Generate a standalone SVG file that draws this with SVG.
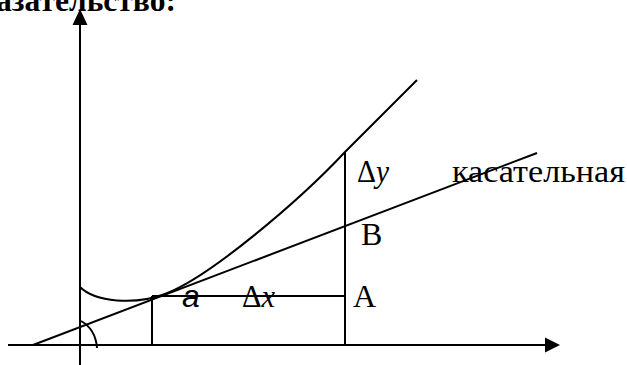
<svg xmlns="http://www.w3.org/2000/svg" width="627" height="365" viewBox="0 0 627 365">
<style>
.ln{stroke:#000;stroke-width:2;fill:none}
.t{font-family:"Liberation Serif","Times New Roman",serif;font-size:32px;fill:#000}
.i{font-style:italic}
</style>
<rect width="627" height="365" fill="#fff"/>
<text id="title" x="-4" y="11" class="t" style="font-weight:bold;font-size:32px" textLength="180" lengthAdjust="spacingAndGlyphs">азательство:</text>
<g id="axes">
<line class="ln" x1="80" y1="24" x2="80" y2="365"/>
<polygon points="80,9 72.5,25 87.5,25" fill="#000"/>
<line class="ln" x1="8" y1="345" x2="546" y2="345"/>
<polygon points="560,345 545,337.5 545,352.5" fill="#000"/>
</g>
<g id="connectors">
<line id="tangent" class="ln" x1="33" y1="345" x2="537" y2="153"/>
<path id="curve" class="ln" d="M80,287 C95,302 135,305.4 165,294 C210,277 300,200 345,152 L417,80"/>
<path id="arc" class="ln" d="M81,321 C90,326 96,335 97,348"/>
<line class="ln" x1="152" y1="296" x2="152" y2="345"/>
<line class="ln" x1="152" y1="296" x2="345" y2="296"/>
<line class="ln" x1="345" y1="152" x2="345" y2="345"/>
</g>
<g id="labels">
<text x="182" y="307" style="font-family:'Liberation Sans',Arial,sans-serif;font-size:32px;font-style:italic">a</text>
<text x="242" y="307" class="t" textLength="33" lengthAdjust="spacingAndGlyphs">Δ<tspan class="i">x</tspan></text>
<text x="353" y="307" class="t">A</text>
<text x="361" y="245" class="t">B</text>
<text x="357" y="182" class="t" textLength="32" lengthAdjust="spacingAndGlyphs">Δ<tspan class="i">y</tspan></text>
<text x="452" y="182" class="t" textLength="173" lengthAdjust="spacingAndGlyphs">касательная</text>
</g>
</svg>
